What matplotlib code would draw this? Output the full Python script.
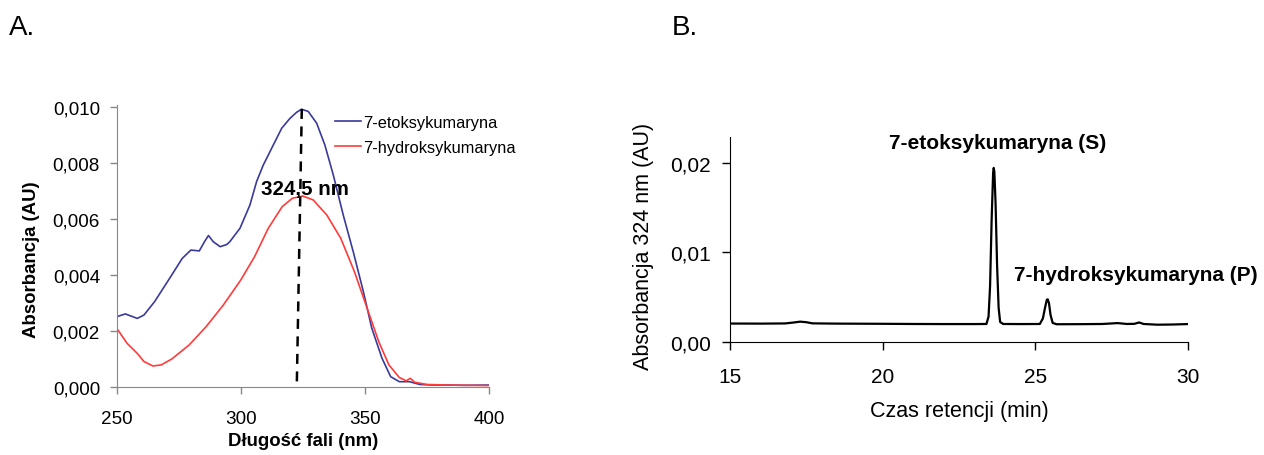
import matplotlib
matplotlib.use('Agg')
import matplotlib.pyplot as plt
import numpy as np

plt.rcParams['font.family'] = ['Liberation Sans', 'DejaVu Sans']

# Panel A - UV spectra
wl_eto = [250, 253.5, 258.3, 261, 265.3, 272.2, 276.4, 279.9, 283.3, 285.4, 287, 288.9,
          291.7, 294.4, 295.6, 299.7, 303.7, 306.4, 309.1, 313.1, 316.5, 319.8, 322.5,
          324.5, 327.2, 330.6, 333.9, 337.3, 341.3, 345.3, 349.4, 352.8, 356.9, 360.4,
          363.9, 368, 372.2, 377.8, 383, 390, 400]
abs_eto = [0.00252, 0.00262, 0.00246, 0.00258, 0.00306, 0.00401, 0.0046, 0.0049, 0.00487,
           0.0052, 0.00542, 0.0052, 0.00502, 0.0051, 0.0052, 0.00568, 0.00651, 0.00735,
           0.00794, 0.00865, 0.00925, 0.0096, 0.00982, 0.00993, 0.00985, 0.00943, 0.00865,
           0.00758, 0.00615, 0.00485, 0.00342, 0.00211, 0.00104, 0.00038, 0.0002, 0.0002,
           0.0001, 0.00008, 0.00008, 0.00007, 0.00008]
wl_hyd = [250, 254.2, 258.3, 261, 264.6, 268, 272.2, 279.2, 286.1, 293, 300, 305.6, 311.1,
          316.7, 320.8, 325, 329.2, 334.7, 340.3, 345.8, 351.4, 355.6, 359.7, 363.9, 366.7,
          368.3, 370.1, 375, 383.3, 400]
abs_hyd = [0.00211, 0.00157, 0.00121, 0.00092, 0.00076, 0.0008, 0.00101, 0.00151, 0.00217,
           0.00294, 0.00383, 0.00467, 0.00568, 0.00645, 0.00675, 0.00683, 0.00669, 0.00615,
           0.00532, 0.00413, 0.0027, 0.00163, 0.0008, 0.00035, 0.00023, 0.00032, 0.00018,
           0.0001, 0.00008, 0.00006]
peak_line_x = [324.6, 322.6]
peak_line_y = [0.00994, 0.00014]
a_yticks = [0, 0.002, 0.004, 0.006, 0.008, 0.010]
a_yticklabels = ['0,000', '0,002', '0,004', '0,006', '0,008', '0,010']
a_xticks = [250, 300, 350, 400]

# Panel B - chromatogram
t_min = [15.0, 16.0, 16.8, 17.1, 17.3, 17.5, 17.7, 18.5, 20.0, 21.0, 22.0, 23.0, 23.40,
         23.47, 23.52, 23.57, 23.62, 23.64, 23.66, 23.70, 23.75, 23.80, 23.85, 23.95, 24.5,
         25.15, 25.25, 25.32, 25.38, 25.41, 25.45, 25.50, 25.57, 25.7, 26.5, 27.2, 27.7,
         28.0, 28.25, 28.4, 28.55, 29.0, 29.5, 30.0]
signal = [0.00203, 0.00202, 0.00204, 0.00215, 0.00224, 0.00218, 0.00205, 0.00202, 0.00200,
          0.00198, 0.00197, 0.00197, 0.00198, 0.0028, 0.0062, 0.0135, 0.0189, 0.01944,
          0.0190, 0.0155, 0.0085, 0.0038, 0.0022, 0.00198, 0.00197, 0.00198, 0.0026, 0.0038,
          0.0047, 0.00473, 0.0043, 0.0030, 0.0021, 0.00195, 0.00196, 0.00198, 0.00208,
          0.00198, 0.00200, 0.00215, 0.00198, 0.00190, 0.00192, 0.00197]
b_yticks = [0, 0.01, 0.02]
b_yticklabels = ['0,00', '0,01', '0,02']
b_xticks = [15, 20, 25, 30]

fig = plt.figure(figsize=(12.64, 4.56), dpi=100)

# ---- A ----
axA = fig.add_axes([0.0923, 0.1485, 0.2945, 0.619])
axA.plot(wl_eto, abs_eto, color='#3a3a9c', lw=1.2, label='7-etoksykumaryna')
axA.plot(wl_hyd, abs_hyd, color='#ff3b3b', lw=1.2, label='7-hydroksykumaryna')
axA.plot(peak_line_x, peak_line_y, color='k', lw=1.8, ls=(0, (4, 3)))
axA.text(308.0, 0.0069, '324,5 nm', fontsize=14.8, fontweight='bold')
axA.set_xlim(250, 400)
axA.set_ylim(0, 0.01008)
axA.set_xticks(a_xticks)
axA.set_yticks(a_yticks)
axA.set_yticklabels(a_yticklabels)
axA.tick_params(direction='out', length=5, width=1, color='#888888', labelsize=13.6)
axA.tick_params(axis='x', pad=11)
axA.tick_params(axis='y', pad=7)
for s in ['top', 'right']:
    axA.spines[s].set_visible(False)
for s in ['left', 'bottom']:
    axA.spines[s].set_color('#888888')
axA.set_xlabel('Długość fali (nm)', fontsize=13.4, fontweight='bold')
axA.set_ylabel('Absorbancja (AU)', fontsize=13.4, fontweight='bold')
axA.xaxis.set_label_coords(0.5, -0.16)
axA.yaxis.set_label_coords(-0.205, 0.457)
axA.legend(loc='upper left', bbox_to_anchor=(0.555, 1.005), frameon=False, fontsize=11.8,
           handlelength=1.6, handletextpad=0.15, labelspacing=0.6, borderaxespad=0.3)

# ---- B ----
axB = fig.add_axes([0.5775, 0.2485, 0.3623, 0.449])
axB.plot(t_min, signal, color='k', lw=1.6)
axB.set_xlim(15, 30)
axB.set_ylim(0, 0.0229)
axB.set_xticks(b_xticks)
axB.set_yticks(b_yticks)
axB.set_yticklabels(b_yticklabels)
axB.tick_params(direction='out', length=6, width=1, labelsize=15)
axB.tick_params(axis='x', pad=12)
axB.tick_params(axis='y', pad=8)
for s in ['top', 'right']:
    axB.spines[s].set_visible(False)
axB.text(23.76, 0.0217, '7-etoksykumaryna (S)', fontsize=15, fontweight='bold', ha='center')
axB.text(24.3, 0.0069, '7-hydroksykumaryna (P)', fontsize=15, fontweight='bold')
axB.set_xlabel('Czas retencji (min)', fontsize=15.5, labelpad=10)
axB.set_ylabel('Absorbancja 324 nm (AU)', fontsize=15.5)
axB.yaxis.set_label_coords(-0.165, 0.47)

fig.text(9 / 1264, 1 - 35 / 456, 'A.', fontsize=20)
fig.text(672 / 1264, 1 - 35 / 456, 'B.', fontsize=20)

fig.savefig('out.png', dpi=100)
